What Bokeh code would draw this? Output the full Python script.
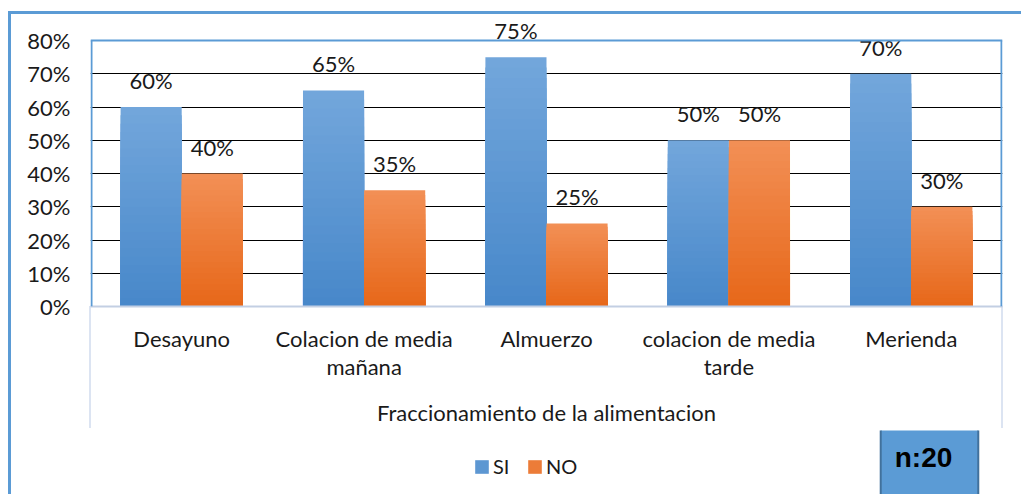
from bokeh.plotting import figure
from bokeh.layouts import column
from bokeh.models import (ColumnDataSource, FactorRange, Range1d, NumeralTickFormatter,
                          LabelSet, Label, Legend, LegendItem, BoxAnnotation, FixedTicker, Span)
from bokeh.embed import file_html
from bokeh.resources import INLINE
from bokeh.core.properties import value
from bokeh.transform import dodge

# ---- data ----
categories = ["Desayuno", "Colacion de media\nmañana", "Almuerzo",
              "colacion de media\ntarde", "Merienda"]
si_values = [0.60, 0.65, 0.75, 0.50, 0.70]
no_values = [0.40, 0.35, 0.25, 0.50, 0.30]
series_names = ["SI", "NO"]
y_ticks = [0.0, 0.1, 0.2, 0.3, 0.4, 0.5, 0.6, 0.7, 0.8]
x_title = "Fraccionamiento de la alimentacion"
note_text = "n:20"

FONT = "Lato"
TXT = "#1a1a1a"
FRAME_BLUE = "#5B9BD5"
SI_TOP, SI_BOT = "#72A6DB", "#4888CA"
NO_TOP, NO_BOT = "#F28F55", "#E7681A"

W = 1021
H1, H2 = 430, 64
ML, MR, MT, MB = 90, 19, 12, 124
FW, FH = W - ML - MR, H1 - MT - MB
Y_TOP = y_ticks[-1]
Y_END = Y_TOP * FH / (FH - 28)   # leaves room above the 80% line for labels

bg1 = ("linear-gradient(#5B9BD5,#5B9BD5) 8px 11px / 3px 480px no-repeat, "
       "linear-gradient(#5B9BD5,#5B9BD5) 8px 11px / 1020px 3px no-repeat, "
       "linear-gradient(#DCE4F2,#DCE4F2) 89px 306px / 2px 122px no-repeat, "
       "linear-gradient(#DCE4F2,#DCE4F2) 1001px 306px / 2px 122px no-repeat, #ffffff")
bg2 = "linear-gradient(#5B9BD5,#5B9BD5) 8px 0px / 3px 100px no-repeat, #ffffff"

p = figure(x_range=FactorRange(*categories), y_range=Range1d(0, Y_END),
           width=W, height=H1, output_backend="svg", toolbar_location=None,
           min_border_left=ML, min_border_right=MR, min_border_top=MT, min_border_bottom=MB,
           styles={"background": bg1})
p.outline_line_color = None
p.background_fill_color = None
p.border_fill_color = None

# gridlines
p.xgrid.grid_line_color = None
p.ygrid.grid_line_color = "#000000"
p.ygrid.grid_line_width = 1
p.yaxis.ticker = FixedTicker(ticks=y_ticks)
p.ygrid.ticker = FixedTicker(ticks=y_ticks[1:-1])

# y axis
p.yaxis.formatter = NumeralTickFormatter(format="0%")
p.yaxis.axis_line_color = None
p.yaxis.major_tick_line_color = None
p.yaxis.minor_tick_line_color = None
p.yaxis.major_label_standoff = 14
p.yaxis.major_label_text_font = FONT
p.yaxis.major_label_text_font_size = "22px"
p.yaxis.major_label_text_color = TXT

# x axis
p.xaxis.axis_line_color = "#C3CFE3"
p.xaxis.axis_line_width = 2
p.xaxis.major_tick_line_color = None
p.xaxis.minor_tick_line_color = None
p.xaxis.major_label_standoff = 12
p.xaxis.major_label_text_font = FONT
p.xaxis.major_label_text_font_size = "22px"
p.xaxis.major_label_text_color = TXT
p.xaxis.major_label_text_line_height = 1.05
p.xaxis.axis_label = x_title
p.xaxis.axis_label_standoff = 16
p.xaxis.axis_label_text_font = FONT
p.xaxis.axis_label_text_font_size = "22px"
p.xaxis.axis_label_text_font_style = "normal"
p.xaxis.axis_label_text_color = TXT

src = ColumnDataSource(dict(
    cat=categories, si=si_values, no=no_values,
    si_lbl=[f"{round(v*100)}%" for v in si_values],
    no_lbl=[f"{round(v*100)}%" for v in no_values],
))

BW = 0.335
OFF = BW / 2


def hex2rgb(h):
    return tuple(int(h[i:i + 2], 16) for i in (1, 3, 5))


def mix(a, b, t):
    ca, cb = hex2rgb(a), hex2rgb(b)
    return "#%02x%02x%02x" % tuple(round(ca[i] + (cb[i] - ca[i]) * t) for i in range(3))


N = 24
series_cfg = [("si", -OFF, SI_TOP, SI_BOT), ("no", OFF, NO_TOP, NO_BOT)]
for col, off, ctop, cbot in series_cfg:
    for k in range(N):
        frac = 1 - k / N
        s = ColumnDataSource(dict(cat=categories, top=[v * frac for v in src.data[col]]))
        p.vbar(x=dodge("cat", off, range=p.x_range), top="top", bottom=0, width=BW,
               source=s, fill_color=mix(ctop, cbot, k / (N - 1)), line_color=None)
    p.add_layout(LabelSet(x=dodge("cat", off, range=p.x_range), y=col, text=col + "_lbl",
                          source=src, text_align="center", text_baseline="bottom",
                          y_offset=13, text_font=value(FONT), text_font_size="22px",
                          text_color=TXT))

# plot-area border (left, right, top at 80%)
for l, r in ((0, 2), (FW - 2, FW)):
    p.add_layout(BoxAnnotation(left=l, right=r, left_units="screen", right_units="screen",
                               bottom=0, top=Y_TOP, fill_color=FRAME_BLUE, fill_alpha=1,
                               line_color=None))
p.add_layout(Span(location=Y_TOP, dimension="width", line_color=FRAME_BLUE, line_width=2))

# ---- bottom strip: legend and n:20 box (frame aligned with the chart's frame) ----
p2 = figure(width=W, height=H2, output_backend="svg", toolbar_location=None,
            x_range=FactorRange(*categories), y_range=Range1d(0, 1),
            x_axis_location=None, y_axis_location=None,
            min_border_left=ML, min_border_right=MR, min_border_top=0, min_border_bottom=0,
            styles={"background": bg2})
p2.outline_line_color = None
p2.background_fill_color = None
p2.border_fill_color = None
p2.grid.visible = False

items = []
for col, name, ctop, cbot in zip(("si", "no"), series_names, (SI_TOP, NO_TOP), (SI_BOT, NO_BOT)):
    r = p2.vbar(x="cat", top=col, width=0.3, source=src,
                fill_color=mix(ctop, cbot, 0.5), line_color=None, visible=False)
    items.append(LegendItem(label=name, renderers=[r]))

legend = Legend(items=items, orientation="horizontal", location=(383, 16),
                glyph_width=17, glyph_height=17, label_standoff=3, spacing=13,
                padding=0, margin=0, border_line_color=None, background_fill_alpha=0,
                label_text_font=FONT, label_text_font_size="20px", label_text_color=TXT)
p2.add_layout(legend, "center")

p2.add_layout(Label(x=839, y=31, x_units="screen", y_units="screen", text=note_text,
                    text_align="center", text_baseline="middle",
                    text_font="Liberation Sans", text_font_style="bold",
                    text_font_size="28px", text_color="#000000",
                    background_fill_color="#5B9BD5", border_line_color="#41719C",
                    border_line_width=2, padding=(14, 26, 14, 26)))

layout = column(p, p2, spacing=0)
open("out.html", "w").write(file_html(layout, INLINE))
